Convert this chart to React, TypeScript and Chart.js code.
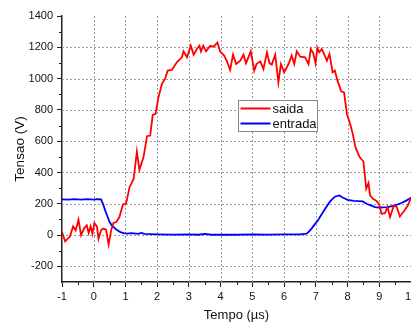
import React, { useEffect, useRef } from "react";
import { Chart, registerables } from "chart.js";

Chart.register(...registerables);

// saida (red) — time in µs, voltage in V
const saidaT = [
  -1.0, -0.9, -0.75, -0.65, -0.57, -0.48, -0.4, -0.3, -0.22, -0.16, -0.1, -0.04, 0.02, 0.1, 0.15, 0.23, 0.3, 0.39,
  0.47, 0.55, 0.62, 0.71, 0.81, 0.92, 1.02, 1.13, 1.26, 1.36, 1.44, 1.57, 1.68, 1.78, 1.86, 1.95, 2.04, 2.15, 2.25,
  2.33, 2.46, 2.62, 2.72, 2.78, 2.83, 2.94, 3.06, 3.15, 3.25, 3.33, 3.38, 3.45, 3.54, 3.67, 3.78, 3.9, 3.98, 4.11,
  4.2, 4.3, 4.39, 4.49, 4.62, 4.72, 4.8, 4.95, 5.06, 5.13, 5.25, 5.35, 5.46, 5.54, 5.61, 5.72, 5.82, 5.9, 6.0, 6.14,
  6.24, 6.32, 6.4, 6.51, 6.66, 6.77, 6.84, 6.92, 6.99, 7.05, 7.11, 7.19, 7.26, 7.35, 7.43, 7.53, 7.6, 7.68, 7.8,
  7.89, 7.98, 8.08, 8.16, 8.25, 8.38, 8.5, 8.59, 8.66, 8.71, 8.8, 8.92, 9.0, 9.07, 9.18, 9.26, 9.34, 9.46, 9.55,
  9.65, 9.8, 9.9, 10.0,
];
const saidaV = [
  20, -40, -10, 55, 30, 98, 0, 45, 62, 13, 55, 9, 77, 55, -23, 30, 41, 34,
  -61, 30, 77, 83, 115, 196, 202, 306, 360, 534, 417, 498, 632, 636, 768, 775, 880, 966, 1000,
  1051, 1055, 1104, 1125, 1136, 1174, 1136, 1210, 1153, 1189, 1210, 1174, 1210, 1174, 1210, 1204, 1231, 1174, 1147,
  1110, 1055, 1153, 1093, 1115, 1153, 1098, 1174, 1051, 1093, 1110, 1062, 1168, 1098, 1089, 1153, 976, 1093, 1040, 1093,
  1147, 1093, 1174, 1140, 1136, 1093, 1189, 1161, 1098, 1196, 1168, 1189, 1157, 1115, 1157, 1040, 1051, 990, 919,
  912, 774, 711, 650, 560, 498, 470, 296, 332, 253, 232, 217, 196, 136, 140, 179, 115, 189, 179,
  119, 158, 189, 238,
];

// entrada (blue)
const entradaT = [
  -1.0, -0.8, -0.6, -0.4, -0.2, 0.0, 0.1, 0.23, 0.3, 0.36, 0.43, 0.5, 0.57, 0.63, 0.72, 0.84, 0.95, 1.05, 1.2, 1.4,
  1.5, 1.6, 2.0, 2.5, 3.0, 3.3, 3.5, 3.7, 4.0, 4.5, 5.0, 5.5, 6.0, 6.5, 6.71, 6.8, 6.87, 6.97, 7.07, 7.13, 7.3,
  7.45, 7.6, 7.74, 7.85, 8.0, 8.2, 8.48, 8.6, 8.75, 8.87, 9.0, 9.27, 9.5, 9.7, 9.85, 10.0,
];
const entradaV = [
  228, 226, 229, 226, 229, 226, 230, 228, 195, 158, 120, 83, 62, 51, 33, 19, 13, 9, 12, 8,
  14, 7, 5, 3, 4, 2, 8, 2, 3, 2, 4, 3, 5, 4, 9, 25, 43, 70, 94, 115, 170,
  215, 245, 253, 240, 225, 218, 215, 200, 188, 179, 176, 179, 190, 205, 220, 238,
];

const xTicks = [-1, 0, 1, 2, 3, 4, 5, 6, 7, 8, 9, 10];
const xMinor = [-0.5, 0.5, 1.5, 2.5, 3.5, 4.5, 5.5, 6.5, 7.5, 8.5, 9.5];
const yTicks = [-200, 0, 200, 400, 600, 800, 1000, 1200, 1400];
const yMinor = [-100, 100, 300, 500, 700, 900, 1100, 1300];
const xGrid = [0, 1, 2, 3, 4, 5, 6, 7, 8, 9, 10];
const yGrid = [-200, 0, 200, 400, 600, 800, 1000, 1200];

const seriesLabels = ["saida", "entrada"];
const seriesColors = ["#ff0000", "#0000ff"];

const FONT = "'Liberation Sans', Arial, sans-serif";

export default function App() {
  const ref = useRef<HTMLCanvasElement>(null);

  useEffect(() => {
    if (!ref.current) return;

    const dashedGrid = {
      id: "dashedGrid",
      beforeDatasetsDraw(chart: any) {
        const { ctx, scales, chartArea } = chart;
        const x = scales.x;
        const y = scales.y;
        ctx.save();
        ctx.strokeStyle = "#9a9a9a";
        ctx.lineWidth = 1;
        ctx.setLineDash([2, 2]);
        for (const v of xGrid) {
          const px = Math.round(x.getPixelForValue(v)) + 0.5;
          ctx.beginPath();
          ctx.moveTo(px, chartArea.top);
          ctx.lineTo(px, chartArea.bottom);
          ctx.stroke();
        }
        for (const v of yGrid) {
          const py = Math.round(y.getPixelForValue(v)) + 0.5;
          ctx.beginPath();
          ctx.moveTo(chartArea.left, py);
          ctx.lineTo(chartArea.right, py);
          ctx.stroke();
        }
        ctx.restore();
      },
    };

    const minorTicks = {
      id: "minorTicks",
      afterDraw(chart: any) {
        const { ctx, scales } = chart;
        const x = scales.x;
        const y = scales.y;
        ctx.save();
        ctx.strokeStyle = "#222";
        ctx.lineWidth = 1;
        for (const v of yMinor) {
          const py = Math.round(y.getPixelForValue(v)) + 0.5;
          ctx.beginPath();
          ctx.moveTo(x.left - 3, py);
          ctx.lineTo(x.left, py);
          ctx.stroke();
        }
        for (const v of xMinor) {
          const px = Math.round(x.getPixelForValue(v)) + 0.5;
          ctx.beginPath();
          ctx.moveTo(px, y.bottom);
          ctx.lineTo(px, y.bottom + 3);
          ctx.stroke();
        }
        ctx.restore();
      },
    };

    const legendBox = {
      id: "legendBox",
      afterDraw(chart: any) {
        const { ctx, chartArea } = chart;
        const left = chartArea.left + 176.5;
        const top = chartArea.top + 84.5;
        const w = 79;
        const h = 31;
        ctx.save();
        ctx.fillStyle = "#fff";
        ctx.fillRect(left, top, w, h);
        ctx.strokeStyle = "#888";
        ctx.lineWidth = 1;
        ctx.strokeRect(left, top, w, h);
        ctx.font = `13px ${FONT}`;
        ctx.textBaseline = "middle";
        ctx.textAlign = "left";
        seriesLabels.forEach((label, i) => {
          const ly = top + 8 + i * 15;
          ctx.strokeStyle = seriesColors[i];
          ctx.lineWidth = 2;
          ctx.beginPath();
          ctx.moveTo(left + 2, ly);
          ctx.lineTo(left + 32, ly);
          ctx.stroke();
          ctx.fillStyle = "#111";
          ctx.fillText(label, left + 34, ly + 0.5);
        });
        ctx.restore();
      },
    };

    const chart = new Chart(ref.current, {
      type: "line",
      data: {
        datasets: [
          {
            label: seriesLabels[0],
            data: saidaT.map((t, i) => ({ x: t, y: saidaV[i] })),
            borderColor: seriesColors[0],
            borderWidth: 1.8,
            pointRadius: 0,
            tension: 0,
          },
          {
            label: seriesLabels[1],
            data: entradaT.map((t, i) => ({ x: t, y: entradaV[i] })),
            borderColor: seriesColors[1],
            borderWidth: 1.8,
            pointRadius: 0,
            tension: 0,
          },
        ],
      },
      options: {
        animation: false,
        responsive: false,
        maintainAspectRatio: false,
        layout: { padding: { top: 16, right: 29, bottom: 0, left: 0 } },
        plugins: { legend: { display: false }, tooltip: { enabled: false } },
        scales: {
          x: {
            type: "linear",
            min: -1,
            max: 10,
            afterBuildTicks: (s: any) => {
              s.ticks = xTicks.map((v) => ({ value: v }));
            },
            afterFit: (s: any) => {
              s.height = 41;
            },
            ticks: {
              font: { family: FONT, size: 11 },
              color: "#111",
              padding: 3,
              maxRotation: 0,
              autoSkip: false,
              callback: (v: any) => String(v),
            },
            grid: {
              drawOnChartArea: false,
              tickColor: "#222",
              tickLength: 5,
              drawTicks: true,
            },
            border: { display: true, color: "#222", width: 1.5 },
            title: {
              display: true,
              text: "Tempo (µs)",
              font: { family: FONT, size: 13 },
              color: "#111",
              padding: { top: 0, bottom: 0 },
            },
          },
          y: {
            type: "linear",
            min: -300,
            max: 1400,
            afterBuildTicks: (s: any) => {
              s.ticks = yTicks.map((v) => ({ value: v }));
            },
            afterFit: (s: any) => {
              s.width = 62;
            },
            ticks: {
              font: { family: FONT, size: 11 },
              color: "#111",
              padding: 4,
              autoSkip: false,
              callback: (v: any) => String(v),
            },
            grid: {
              drawOnChartArea: false,
              tickColor: "#222",
              tickLength: 5,
              drawTicks: true,
            },
            border: { display: true, color: "#222", width: 1.5 },
            title: {
              display: true,
              text: "Tensao (V)",
              font: { family: FONT, size: 13.5 },
              color: "#111",
              padding: { top: 12, bottom: 0 },
            },
          },
        },
      },
      plugins: [dashedGrid, minorTicks, legendBox],
    });

    return () => chart.destroy();
  }, []);

  return (
    <div
      style={{
        position: "fixed",
        left: 0,
        top: 0,
        width: 411,
        height: 323,
        overflow: "hidden",
        background: "#fff",
      }}
    >
      <canvas ref={ref} width={440} height={323} style={{ display: "block" }} />
    </div>
  );
}
